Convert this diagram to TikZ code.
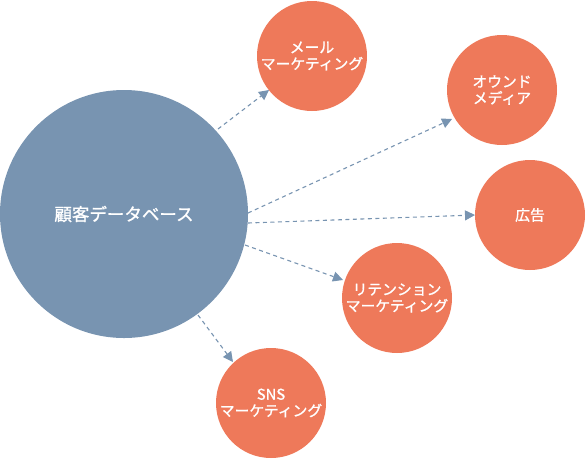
\documentclass[tikz,border=0pt]{standalone}
\usepackage{fontspec}
\setmainfont{Noto Sans CJK JP}[FakeBold=1.2,AutoFakeBold=1.2]
\usetikzlibrary{arrows.meta}
\definecolor{hub}{HTML}{7894B1}
\definecolor{leaf}{HTML}{EE795A}
\tikzset{
  hubnode/.style={circle,fill=hub,minimum size=248pt,inner sep=0pt,text=white,font=\fontsize{17.5}{21}\bfseries},
  leafnode/.style={circle,fill=leaf,minimum size=110pt,inner sep=0pt,text=white,align=center,font=\fontsize{14.8}{16.5}\bfseries},
  link/.style={draw=hub,line width=1.1pt,dash pattern=on 4pt off 3.5pt,-{Triangle[length=10pt,width=10pt]}}
}
\begin{document}
\begin{tikzpicture}[x=1pt,y=-1pt]
\useasboundingbox (0,0) rectangle (586,459);
\node[hubnode] (db) at (124,214) {顧客データベース};
\node[leafnode] (mail) at (312,56) {メール\\マーケティング};
\node[leafnode] (owned) at (502,90) {オウンド\\メディア};
\node[leafnode] (ad) at (530,215) {広告};
\node[leafnode] (ret) at (397,298) {リテンション\\マーケティング};
\node[leafnode] (sns) at (271,403) {SNS\\マーケティング};
\coordinate (s1) at (218,129);
\coordinate (t1) at (269,90);
\coordinate (s2) at (248,213);
\coordinate (t2) at (452,119);
\coordinate (s3) at (248,223);
\coordinate (t3) at (475,215);
\coordinate (s4) at (245,245);
\coordinate (t4) at (343,280);
\coordinate (s5) at (198,315);
\coordinate (t5) at (233,362);
\draw[link] (s1) -- (t1);
\draw[link] (s2) -- (t2);
\draw[link] (s3) -- (t3);
\draw[link] (s4) -- (t4);
\draw[link] (s5) -- (t5);
\end{tikzpicture}
\end{document}
